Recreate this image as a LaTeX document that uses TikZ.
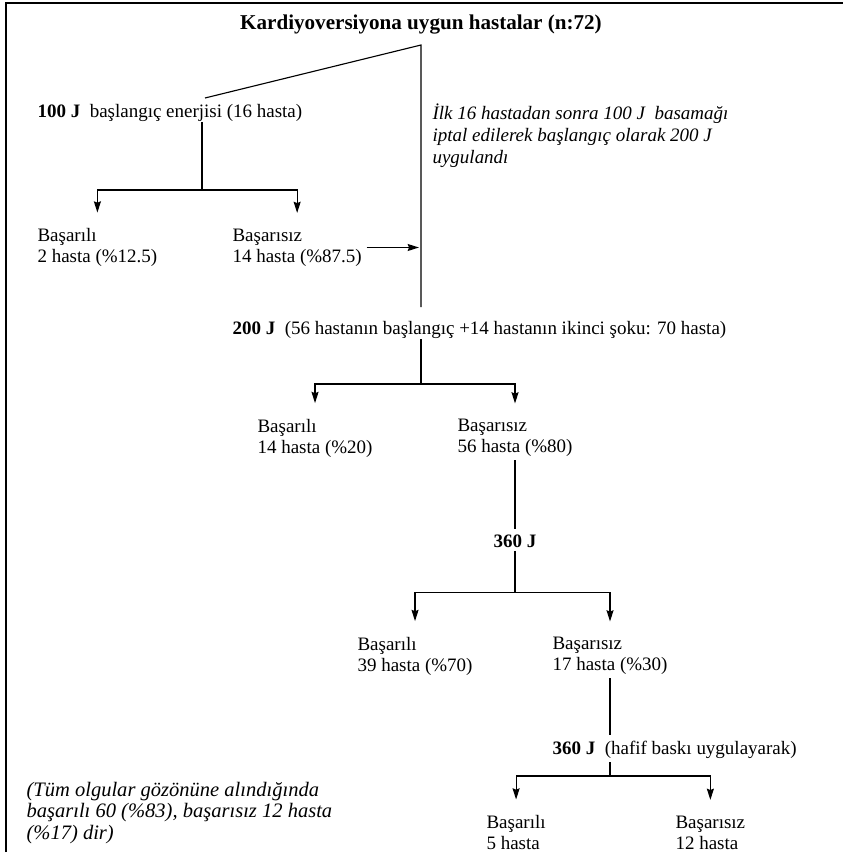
\documentclass[tikz,border=0pt]{standalone}
\usepackage{fontspec}
\setmainfont{Liberation Serif}
\usetikzlibrary{arrows.meta,positioning}

\begin{document}
\begin{tikzpicture}[x=0.025cm, y=-0.025cm, line width=0.8pt,
    metin/.style={inner sep=0pt, align=left, anchor=west, font=\fontsize{13.5}{15}\selectfont},
    notmetin/.style={metin, font=\fontsize{13.5}{15.8}\selectfont\itshape},
    ok/.style={-{Stealth[length=8pt,width=5pt,inset=1pt]}, shorten >=0.38cm},
    sap/.style={shorten <=2pt, shorten >=4pt}]
    \useasboundingbox (0,0) rectangle (843,854);

    % Cerceve (ust ve sol kenar)
    \draw[line width=1.2pt] (6,852) -- (6,3) -- (843,3);

    % Baslik ve ana kol
    \node[inner sep=0pt, font=\fontsize{15}{17}\selectfont\bfseries] (baslik) at (421,25) {Kardiyoversiyona uygun hastalar (n:72)};
    \coordinate (kol) at (421,45);
    \coordinate (kolson) at (421,307);
    \coordinate (d100) at (205,98);
    \draw (d100) -- (kol) -- (kolson);

    % 100 J dali
    \node[metin] (e100) at (37,113) {\textbf{100 J}\ \ başlangıç enerjisi (16 hasta)};
    \coordinate (f100) at (202,190);
    \node[metin] (b1) at (37,247.5) {Başarılı\\2 hasta (\%12.5)};
    \node[metin] (b2) at (232,247.5) {Başarısız\\14 hasta (\%87.5)};
    \draw (e100.south -| f100) -- (f100);
    \draw[ok] (f100) -| (b1.north);
    \draw[ok] (f100) -| (b2.north);
    \draw[ok, shorten >=1.5pt] ([xshift=3pt]b2.east) -- (b2.east -| kol);

    % Aciklama
    \node[notmetin] (not) at (432,135.5) {İlk 16 hastadan sonra 100 J\ \ basamağı\\iptal edilerek başlangıç olarak 200 J\\uygulandı};

    % 200 J dali
    \node[metin] (e200) at (232,330) {\textbf{200 J}\ \ (56 hastanın başlangıç +14 hastanın ikinci şoku: 70 hasta)};
    \coordinate (f200) at (421,384);
    \node[metin] (b3) at (257,438) {Başarılı\\14 hasta (\%20)};
    \node[metin] (b4) at (457,438) {Başarısız\\56 hasta (\%80)};
    \draw (e200.south -| f200) -- (f200);
    \draw[ok] (f200) -| (b3.north);
    \draw[ok] (f200) -| (b4.north);

    % 360 J dali
    \node[inner sep=0pt, font=\fontsize{13.5}{15}\selectfont\bfseries, below=1.92cm of b4] (e360) {360 J};
    \coordinate[below=1.12cm of e360] (f360);
    \node[metin] (b5) at (357,656) {Başarılı\\39 hasta (\%70)};
    \node[metin] (b6) at (552,656) {Başarısız\\17 hasta (\%30)};
    \draw[sap] (b4) -- (e360);
    \draw[shorten <=2pt] (e360) -- (f360);
    \draw[ok] (f360) -| (b5.north);
    \draw[ok] (f360) -| (b6.north);

    % Hafif baski ile 360 J
    \node[metin] (e360h) at (552,750) {\textbf{360 J}\ \ (hafif baskı uygulayarak)};
    \coordinate (fhaf) at (0,776);
    \node[metin] (b7) at (486,832.5) {Başarılı\\5 hasta};
    \node[metin] (b8) at (675,832.5) {Başarısız\\12 hasta};
    \draw[sap] (b6.south) -- (b6.south |- e360h.north);
    \draw[shorten <=2pt] (b6.south |- e360h.south) -- (b6.south |- fhaf);
    \draw[ok] (b6.south |- fhaf) -| (b7.north);
    \draw[ok] (b6.south |- fhaf) -| (b8.north);

    % Genel sonuc
    \node[notmetin, font=\fontsize{14.6}{15.6}\selectfont\itshape] (ozet) at (26,813) {(Tüm olgular gözönüne alındığında\\başarılı 60 (\%83), başarısız 12 hasta\\(\%17) dir)};
\end{tikzpicture}
\end{document}
